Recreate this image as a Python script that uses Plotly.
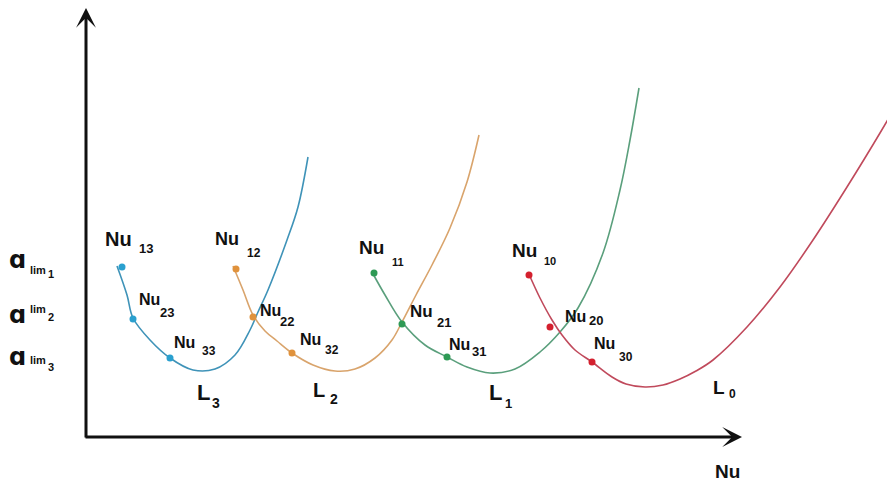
import plotly.graph_objects as go

# ---- curve data (Nu, a); origin at the axes corner ----
L3_nu = [31, 41, 47, 64, 84, 107, 129, 149, 164, 172, 182, 201, 212, 222]
L3_a  = [171, 142, 119, 97, 79, 67, 68, 82, 107, 125, 147, 197, 230, 280]
L2_nu = [147, 157, 167, 179, 191, 206, 227, 249, 269, 289, 306, 316, 330, 346, 364, 381, 393]
L2_a  = [171, 147, 122, 106, 96, 84, 72, 66, 68, 79, 97, 115, 142, 172, 209, 255, 302]
L1_nu = [286, 299, 316, 339, 361, 381, 404, 429, 454, 474, 492, 517, 534, 544, 553]
L1_a  = [165, 142, 115, 92, 80, 70, 64, 68, 85, 105, 129, 184, 247, 297, 349]
L0_nu = [442, 454, 466, 476, 489, 506, 526, 540, 559, 577, 594, 610, 627, 661, 694, 727, 761, 794, 816]
L0_a  = [165, 139, 117, 102, 87, 75, 60, 53, 50, 52, 58, 66, 77, 110, 150, 197, 250, 304, 342]

# marked points Nu_ij on each curve
L3_pts_nu = [36, 47, 84]
L3_pts_a  = [170, 118, 79]
L2_pts_nu = [150, 167, 206]
L2_pts_a  = [168, 120, 84]
L1_pts_nu = [288, 316, 361]
L1_pts_a  = [164, 113, 80]
L0_pts_nu = [443, 464, 506]
L0_pts_a  = [162, 110, 75]

# ---- styling ----
OX, OY = 86, 437          # page-pixel position of the axes origin
PAGE = 8                  # body margin of the html page
W, H = 895 - PAGE, 483 - PAGE

def D(px, py):
    return px - OX, OY - py

curves = [
    (L3_nu, L3_a, L3_pts_nu, L3_pts_a, "#3f93b8", "#2aa0cf"),
    (L2_nu, L2_a, L2_pts_nu, L2_pts_a, "#d9a46c", "#e0923c"),
    (L1_nu, L1_a, L1_pts_nu, L1_pts_a, "#5a9f7c", "#2e9a55"),
    (L0_nu, L0_a, L0_pts_nu, L0_pts_a, "#c04a5c", "#d4202e"),
]

fig = go.Figure()
for xs, ys, px_, py_, lc, dc in curves:
    fig.add_trace(go.Scatter(x=xs, y=ys, mode="lines",
                             line=dict(color=lc, width=1.6, shape="spline", smoothing=1.0),
                             hoverinfo="skip"))
for xs, ys, px_, py_, lc, dc in curves:
    fig.add_trace(go.Scatter(x=px_, y=py_, mode="markers",
                             marker=dict(color=dc, size=7), hoverinfo="skip"))

# axes with arrows
ax_col = "#111111"
fig.add_annotation(x=0, y=D(0, 8)[1], ax=0, ay=D(0, 439)[1], xref="x", yref="y",
                   axref="x", ayref="y", text="", showarrow=True, arrowhead=3,
                   arrowsize=1.1, arrowwidth=3, arrowcolor=ax_col)
fig.add_annotation(x=D(742, 0)[0], y=0, ax=D(84, 0)[0], ay=0, xref="x", yref="y",
                   axref="x", ayref="y", text="", showarrow=True, arrowhead=3,
                   arrowsize=1.1, arrowwidth=3, arrowcolor=ax_col)

FONT = "Liberation Sans, Arial, sans-serif"

def txt(s, px, py, size, anchor="left", family=FONT):
    x, y = D(px, py)
    fig.add_annotation(x=x, y=y, xref="x", yref="y", text="<b>" + s + "</b>",
                       showarrow=False, xanchor=anchor, yanchor="middle",
                       font=dict(family=family, size=size, color="#111111"))

# Nu labels: main, sub, main-left px, main-center py, sub-left px, sub-center py, sizes
nu_labels = [
    ("Nu", "13", 103, 239, 137, 248, 20, 13),
    ("Nu", "23", 137, 299, 158, 312, 16, 13),
    ("Nu", "33", 172, 342, 200, 351, 16, 12),
    ("Nu", "12", 213, 239, 245, 253, 18, 12),
    ("Nu", "22", 258, 310, 278, 321, 16, 13),
    ("Nu", "32", 298, 339, 323, 350, 16, 12),
    ("Nu", "11", 357, 247, 390, 262, 19, 11),
    ("Nu", "21", 408, 311, 435, 322, 17, 13),
    ("Nu", "31", 447, 344, 470, 351, 16, 13),
    ("Nu", "10", 510, 250, 542, 261, 19, 11),
    ("Nu", "20", 563, 316, 587, 320, 16, 13),
    ("Nu", "30", 592, 343, 617, 357, 16, 12),
    ("L", "3", 195, 392, 210, 403, 22, 14),
    ("L", "2", 311, 390, 328, 399, 20, 14),
    ("L", "1", 487, 392, 503, 403, 22, 13),
    ("L", "0", 711, 387, 727, 394, 19, 12),
]
for m, s, mx, my, sx, sy, ms, ss in nu_labels:
    txt(m, mx, my, ms)
    txt(s, sx, sy, ss)

# y-axis levels a_lim
alim_labels = [
    ("1", 260, 270, 274),
    ("2", 315, 309, 317),
    ("3", 357, 360, 367),
]
for s, ay_, ly, sy in alim_labels:
    txt("\u0251", 17, ay_, 24, anchor="center", family="DejaVu Sans, sans-serif")
    txt("lim", 28, ly, 11)
    txt(s, 46, sy, 11)

# x-axis title
txt("Nu", 713, 471, 19)

fig.update_layout(
    width=W, height=H, margin=dict(l=0, r=0, t=0, b=0),
    paper_bgcolor="white", plot_bgcolor="white", showlegend=False,
    xaxis=dict(range=[PAGE - OX, PAGE - OX + W], visible=False, fixedrange=True),
    yaxis=dict(range=[OY - PAGE - H, OY - PAGE], visible=False, fixedrange=True),
)
fig.write_html("out.html")
